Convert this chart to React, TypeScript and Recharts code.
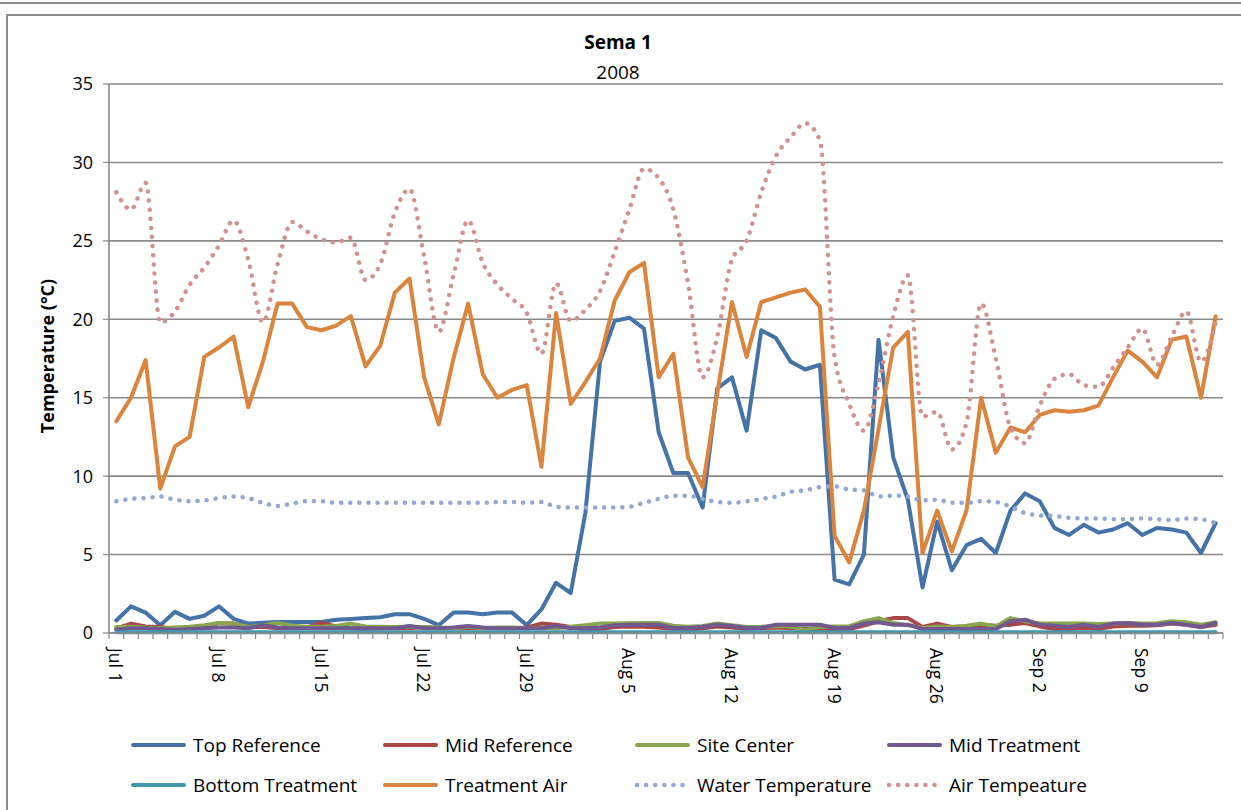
import React from 'react';
import { LineChart, Line, XAxis, YAxis, CartesianGrid } from 'recharts';

// one value per day, Jul 1 .. Sep 14
const TICK_DAYS = [0, 7, 14, 21, 28, 35, 42, 49, 56, 63, 70];
const TICK_LABELS = ['Jul 1', 'Jul 8', 'Jul 15', 'Jul 22', 'Jul 29', 'Aug 5', 'Aug 12', 'Aug 19', 'Aug 26', 'Sep 2', 'Sep 9'];
const Y_TICKS = [0, 5, 10, 15, 20, 25, 30, 35];

const TOP_REFERENCE = [
  0.8, 1.7, 1.3, 0.5, 1.35, 0.9, 1.1, 1.7, 0.9, 0.6,
  0.65, 0.7, 0.7, 0.7, 0.7, 0.85, 0.9, 0.95, 1.0, 1.2,
  1.2, 0.9, 0.5, 1.3, 1.3, 1.2, 1.3, 1.3, 0.5, 1.5,
  3.2, 2.55, 7.65, 17.3, 19.9, 20.1, 19.4, 12.8, 10.2, 10.2,
  8.0, 15.6, 16.3, 12.9, 19.3, 18.8, 17.3, 16.8, 17.1, 3.4,
  3.1, 5.0, 18.7, 11.2, 8.5, 2.9, 7.1, 4.0, 5.6, 6.0,
  5.1, 7.8, 8.9, 8.4, 6.7, 6.25, 6.9, 6.4, 6.6, 7.0,
  6.25, 6.7, 6.6, 6.4, 5.1, 7.0,
];

const MID_REFERENCE = [
  0.3, 0.6, 0.42, 0.38, 0.25, 0.3, 0.35, 0.64, 0.6, 0.38,
  0.4, 0.3, 0.3, 0.35, 0.64, 0.42, 0.3, 0.25, 0.3, 0.3,
  0.3, 0.38, 0.3, 0.3, 0.3, 0.3, 0.3, 0.3, 0.35, 0.6,
  0.53, 0.38, 0.2, 0.25, 0.38, 0.42, 0.4, 0.35, 0.25, 0.2,
  0.3, 0.42, 0.35, 0.25, 0.3, 0.35, 0.3, 0.25, 0.25, 0.25,
  0.25, 0.47, 0.75, 0.95, 0.95, 0.38, 0.6, 0.38, 0.42, 0.53,
  0.47, 0.53, 0.64, 0.42, 0.25, 0.25, 0.32, 0.25, 0.42, 0.47,
  0.47, 0.5, 0.6, 0.53, 0.38, 0.53,
];

const SITE_CENTER = [
  0.38, 0.4, 0.35, 0.3, 0.35, 0.4, 0.5, 0.64, 0.6, 0.38,
  0.5, 0.64, 0.47, 0.4, 0.4, 0.45, 0.6, 0.42, 0.4, 0.38,
  0.4, 0.38, 0.35, 0.3, 0.4, 0.3, 0.35, 0.35, 0.3, 0.35,
  0.3, 0.4, 0.5, 0.6, 0.6, 0.62, 0.64, 0.64, 0.47, 0.4,
  0.45, 0.6, 0.5, 0.38, 0.4, 0.45, 0.4, 0.2, 0.38, 0.42,
  0.42, 0.75, 0.95, 0.64, 0.5, 0.32, 0.42, 0.38, 0.47, 0.6,
  0.42, 0.95, 0.75, 0.6, 0.6, 0.6, 0.6, 0.58, 0.6, 0.64,
  0.6, 0.62, 0.75, 0.68, 0.53, 0.68,
];

const MID_TREATMENT = [
  0.2, 0.3, 0.3, 0.25, 0.2, 0.25, 0.3, 0.35, 0.35, 0.3,
  0.5, 0.35, 0.3, 0.3, 0.3, 0.3, 0.3, 0.3, 0.3, 0.3,
  0.45, 0.3, 0.3, 0.35, 0.45, 0.35, 0.3, 0.3, 0.3, 0.3,
  0.45, 0.3, 0.3, 0.35, 0.5, 0.53, 0.53, 0.53, 0.32, 0.32,
  0.4, 0.53, 0.45, 0.32, 0.32, 0.53, 0.53, 0.53, 0.53, 0.32,
  0.32, 0.6, 0.68, 0.53, 0.53, 0.25, 0.25, 0.25, 0.25, 0.25,
  0.25, 0.75, 0.85, 0.53, 0.47, 0.38, 0.53, 0.38, 0.6, 0.64,
  0.53, 0.53, 0.64, 0.53, 0.38, 0.64,
];

const BOTTOM_TREATMENT = [
  0.05, 0.05, 0.05, 0.05, 0.05, 0.05, 0.05, 0.05, 0.05, 0.05,
  0.05, 0.05, 0.05, 0.05, 0.05, 0.05, 0.05, 0.05, 0.05, 0.05,
  0.05, 0.05, 0.05, 0.05, 0.05, 0.05, 0.05, 0.05, 0.05, 0.05,
  0.05, 0.05, 0.05, 0.05, 0.05, 0.05, 0.05, 0.05, 0.05, 0.05,
  0.05, 0.05, 0.05, 0.05, 0.05, 0.05, 0.05, 0.05, 0.05, 0.05,
  0.05, 0.05, 0.05, 0.05, 0.05, 0.05, 0.05, 0.05, 0.05, 0.05,
  0.05, 0.05, 0.05, 0.05, 0.05, 0.05, 0.05, 0.05, 0.05, 0.05,
  0.05, 0.05, 0.05, 0.05, 0.05, 0.05,
];

const TREATMENT_AIR = [
  13.5, 15.0, 17.4, 9.2, 11.9, 12.5, 17.6, 18.2, 18.9, 14.4,
  17.3, 21.0, 21.0, 19.5, 19.3, 19.6, 20.2, 17.0, 18.3, 21.7,
  22.6, 16.3, 13.3, 17.5, 21.0, 16.5, 15.0, 15.5, 15.8, 10.6,
  20.4, 14.6, 16.0, 17.5, 21.2, 23.0, 23.6, 16.3, 17.8, 11.2,
  9.3, 15.3, 21.1, 17.6, 21.1, 21.4, 21.7, 21.9, 20.8, 6.2,
  4.5, 7.8, 13.0, 18.2, 19.2, 5.1, 7.8, 5.2, 7.8, 15.0,
  11.5, 13.1, 12.8, 13.9, 14.2, 14.1, 14.2, 14.5, 16.3, 18.0,
  17.3, 16.3, 18.7, 18.9, 15.0, 20.2,
];

const WATER_TEMPERATURE = [
  8.4, 8.55, 8.6, 8.7, 8.5, 8.4, 8.45, 8.6, 8.7, 8.6,
  8.3, 8.1, 8.25, 8.4, 8.4, 8.3, 8.3, 8.3, 8.3, 8.3,
  8.3, 8.3, 8.3, 8.3, 8.3, 8.3, 8.35, 8.35, 8.3, 8.35,
  8.05, 8.0, 8.0, 8.0, 8.0, 8.05, 8.3, 8.55, 8.75, 8.75,
  8.55, 8.35, 8.3, 8.4, 8.55, 8.7, 9.0, 9.1, 9.3, 9.35,
  9.15, 9.1, 8.7, 8.75, 8.7, 8.45, 8.5, 8.3, 8.3, 8.4,
  8.35, 8.05, 7.65, 7.5, 7.45, 7.35, 7.3, 7.3, 7.25, 7.25,
  7.3, 7.25, 7.2, 7.3, 7.25, 7.0,
];

const AIR_TEMPERATURE = [
  28.1, 27.0, 28.7, 19.8, 20.5, 22.2, 23.3, 24.7, 26.3, 23.8,
  19.8, 23.5, 26.2, 25.6, 25.1, 24.9, 25.2, 22.5, 23.5, 26.8,
  28.3, 24.0, 19.2, 22.8, 26.3, 23.6, 22.2, 21.3, 20.4, 17.8,
  22.3, 19.9, 20.6, 21.8, 24.3, 27.0, 29.6, 29.0, 27.0, 22.3,
  16.3, 18.9, 23.8, 25.0, 28.1, 30.4, 31.6, 32.5, 31.4, 17.6,
  14.6, 12.9, 15.9, 20.2, 22.8, 13.8, 14.1, 11.7, 13.4, 21.0,
  17.5, 13.1, 12.1, 14.5, 16.2, 16.5, 15.8, 15.7, 16.9, 18.2,
  19.4, 17.1, 18.9, 20.5, 17.3, 19.8,
];

const SERIES = [
  { key: 'topRef', name: 'Top Reference', values: TOP_REFERENCE, color: '#4572A7', dotted: false },
  { key: 'midRef', name: 'Mid Reference', values: MID_REFERENCE, color: '#AA4643', dotted: false },
  { key: 'site', name: 'Site Center', values: SITE_CENTER, color: '#89A54E', dotted: false },
  { key: 'midTreat', name: 'Mid Treatment', values: MID_TREATMENT, color: '#71588F', dotted: false },
  { key: 'bottomTreat', name: 'Bottom Treatment', values: BOTTOM_TREATMENT, color: '#4198AF', dotted: false },
  { key: 'treatAir', name: 'Treatment Air', values: TREATMENT_AIR, color: '#DB843D', dotted: false },
  { key: 'water', name: 'Water Temperature', values: WATER_TEMPERATURE, color: '#93A9CF', dotted: true },
  { key: 'air', name: 'Air Tempeature', values: AIR_TEMPERATURE, color: '#D19392', dotted: true },
];

const data = TOP_REFERENCE.map((_, i) => {
  const row: Record<string, number> = { day: i };
  SERIES.forEach((s) => { row[s.key] = s.values[i]; });
  return row;
});

const N_DAYS = TOP_REFERENCE.length;
const DAY_EDGES = Array.from({ length: N_DAYS + 1 }, (_, i) => i - 0.5);

const PLOT_LEFT = 109;
const PLOT_RIGHT = 1223;
const BAND = (PLOT_RIGHT - PLOT_LEFT) / N_DAYS;
const FONT = '"Open Sans", "Liberation Sans", sans-serif';
const GRID = '#898989';

const DayTick = (props: any) => {
  const { x, y, payload } = props;
  const k = TICK_DAYS.indexOf(Math.round(payload.value + 0.5));
  if (k < 0) return <g />;
  return (
    <text
      transform={`translate(${x + BAND / 2},${y + 3}) rotate(90)`}
      textAnchor="start"
      dominantBaseline="central"
      fontSize={17.5}
      fontFamily={FONT}
      fill="#000"
    >
      {TICK_LABELS[k]}
    </text>
  );
};

const LegendItem = ({ s, i }: { s: (typeof SERIES)[number]; i: number }) => {
  const col = i % 4;
  const row = Math.floor(i / 4);
  return (
    <div style={{ position: 'absolute', left: 130 + col * 252, top: 745 + row * 40 - 12, height: 24, display: 'flex', alignItems: 'center', whiteSpace: 'nowrap' }}>
      <svg width={57} height={10} style={{ marginRight: 6 }}>
        <line
          x1={3} y1={5} x2={54} y2={5}
          stroke={s.color}
          strokeWidth={s.dotted ? 4.5 : 4}
          strokeLinecap="round"
          strokeDasharray={s.dotted ? '0.1 9' : undefined}
        />
      </svg>
      <span style={{ fontSize: 19, fontFamily: FONT, color: '#000' }}>{s.name}</span>
    </div>
  );
};

export default function App() {
  return (
    <div style={{ position: 'absolute', left: 0, top: 0, width: 1241, height: 810, background: '#fff', overflow: 'hidden' }}>
      <div style={{ position: 'absolute', left: 0, top: 2, width: 1241, height: 2, background: '#8c8c8c' }} />
      <div style={{ position: 'absolute', left: 6, top: 14, width: 1240, height: 800, border: '2px solid #8c8c8c', boxSizing: 'border-box' }} />
      <div style={{ position: 'absolute', left: 0, width: 1236, top: 30, textAlign: 'center', fontFamily: FONT, fontWeight: 'bold', fontSize: 19, lineHeight: '24px' }}>Sema 1</div>
      <div style={{ position: 'absolute', left: 0, width: 1236, top: 60, textAlign: 'center', fontFamily: FONT, fontSize: 19, lineHeight: '24px' }}>2008</div>
      <div style={{ position: 'absolute', left: 47, top: 356, transform: 'translate(-50%, -50%) rotate(-90deg)', whiteSpace: 'nowrap', fontFamily: FONT, fontWeight: 'bold', fontSize: 18 }}>Temperature (°C)</div>
      <div style={{ position: 'absolute', left: 0, top: 0 }}>
        <LineChart width={1241} height={810} data={data} margin={{ top: 84, right: 1241 - PLOT_RIGHT, left: PLOT_LEFT - 60, bottom: 137 }}>
          <CartesianGrid vertical={false} stroke={GRID} strokeWidth={1.6} />
          <XAxis
            dataKey="day"
            type="number"
            domain={[-0.5, N_DAYS - 0.5]}
            ticks={DAY_EDGES}
            interval={0}
            height={40}
            tick={<DayTick />}
            tickSize={6}
            tickMargin={6}
            axisLine={{ stroke: GRID, strokeWidth: 1.6 }}
            tickLine={{ stroke: GRID, strokeWidth: 1.2 }}
          />
          <YAxis
            width={60}
            domain={[0, 35]}
            ticks={Y_TICKS}
            interval={0}
            tickSize={6}
            tickMargin={10}
            axisLine={{ stroke: GRID, strokeWidth: 1.6 }}
            tickLine={{ stroke: GRID, strokeWidth: 1.2 }}
            tick={{ fill: '#000', fontSize: 18, fontFamily: FONT }}
          />
          {SERIES.map((s) => (
            <Line
              key={s.key}
              name={s.name}
              dataKey={s.key}
              type={s.dotted ? 'monotone' : 'linear'}
              stroke={s.color}
              strokeWidth={s.dotted ? 4.5 : 4}
              strokeDasharray={s.dotted ? '0.1 9' : undefined}
              strokeLinecap="round"
              strokeLinejoin="round"
              dot={false}
              activeDot={false}
              isAnimationActive={false}
            />
          ))}
        </LineChart>
      </div>
      {SERIES.map((s, i) => <LegendItem key={s.key} s={s} i={i} />)}
    </div>
  );
}
